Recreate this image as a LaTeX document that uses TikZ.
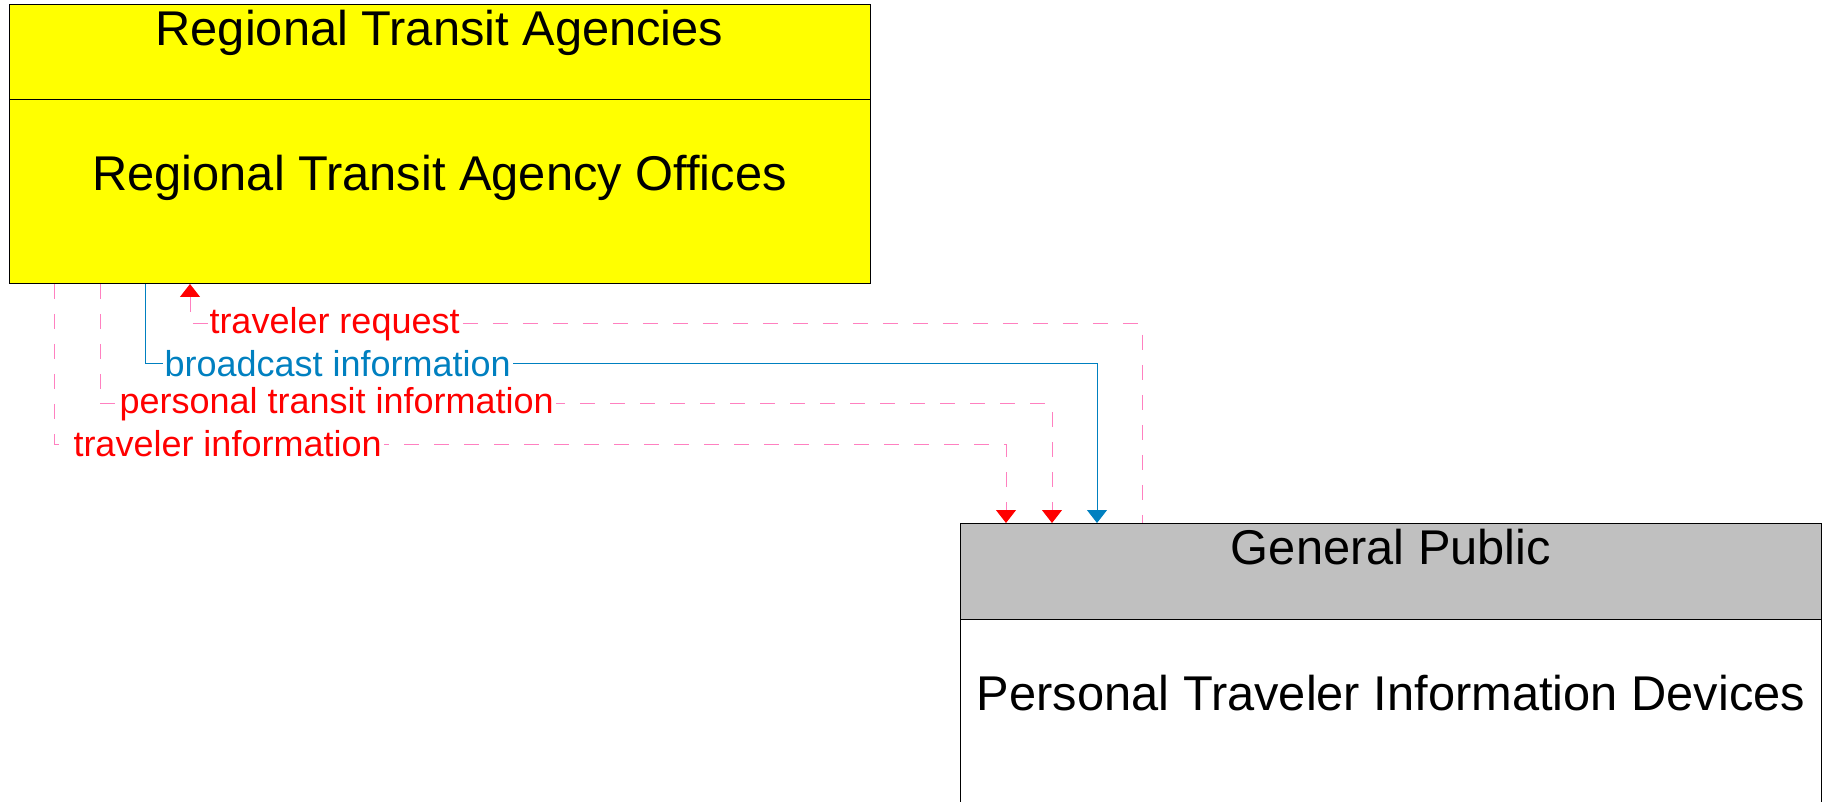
\documentclass[tikz,border=0pt]{standalone}
\usepackage{fontspec}
\setmainfont{Liberation Sans}
\usetikzlibrary{arrows.meta}

\definecolor{rtaYellow}{RGB}{255,255,0}
\definecolor{gpGrey}{RGB}{192,192,192}
\definecolor{flowRed}{RGB}{255,0,0}
\definecolor{flowPink}{RGB}{255,128,192}
\definecolor{flowBlue}{RGB}{0,128,192}

\begin{document}
\begin{tikzpicture}[
    x=0.5pt, y=-0.5pt,
    line width=0.5pt,
    box/.style={draw=black, minimum width=430.5pt, inner sep=0pt, outer sep=0pt},
    hdr/.style={box, minimum height=47.5pt},
    body/.style={box, minimum height=92pt},
    title/.style={font=\fontsize{24.4}{29}\selectfont, inner sep=0pt},
    flowlbl/.style={font=\fontsize{18}{21}\selectfont, fill=white, inner sep=1pt, anchor=west, xshift=8.5pt},
    pinkflow/.style={draw=flowPink, dash pattern=on 7.5pt off 7.5pt},
    blueflow/.style={draw=flowBlue},
    redtip/.style={-{Triangle[length=6.5pt,width=10pt,color=flowRed]}},
    bluetip/.style={-{Triangle[length=6.5pt,width=10pt,color=flowBlue]}},
    redtipback/.style={{Triangle[length=6.5pt,width=10pt,color=flowRed]}-}
]

\useasboundingbox (0,0) rectangle (1827,802);

% Regional Transit Agencies
\node[hdr, fill=rtaYellow] (rtaHdr) at (439.5,52.5) {};
\node[body, fill=rtaYellow, anchor=north] (rtaBody) at (rtaHdr.south) {};
\node[title] (rtaTitle) at ([yshift=-14pt]rtaHdr.north) {Regional Transit Agencies};
\node[title] (rtaName) at ([yshift=-39pt]rtaBody.north) {Regional Transit Agency Offices};

% General Public
\node[hdr, fill=gpGrey, minimum height=48pt] (gpHdr) at (1391,571) {};
\node[body, anchor=north] (gpBody) at (gpHdr.south) {};
\node[title] (gpTitle) at ([yshift=-12pt]gpHdr.north) {General Public};
\node[title] (gpName) at ([yshift=-37pt]gpBody.north) {Personal Traveler Information Devices};

% flows
\draw[pinkflow, redtipback] (190,0 |- rtaBody.south) -- (190,324)
    node[flowlbl, text=flowRed] (lblReq) {traveler request}
    -- (1142,324) -- (1142,0 |- gpHdr.north);
\draw[blueflow, bluetip] (145,0 |- rtaBody.south) -- (145,364)
    node[flowlbl, text=flowBlue] (lblBcast) {broadcast information}
    -- (1097,364) -- (1097,0 |- gpHdr.north);
\draw[pinkflow, redtip] (100,0 |- rtaBody.south) -- (100,404)
    node[flowlbl, text=flowRed] (lblPti) {personal transit information}
    -- (1052,404) -- (1052,0 |- gpHdr.north);
\draw[pinkflow, redtip] (54,0 |- rtaBody.south) -- (54,444)
    node[flowlbl, text=flowRed] (lblTi) {traveler information}
    -- (1006,444) -- (1006,0 |- gpHdr.north);

\end{tikzpicture}
\end{document}
